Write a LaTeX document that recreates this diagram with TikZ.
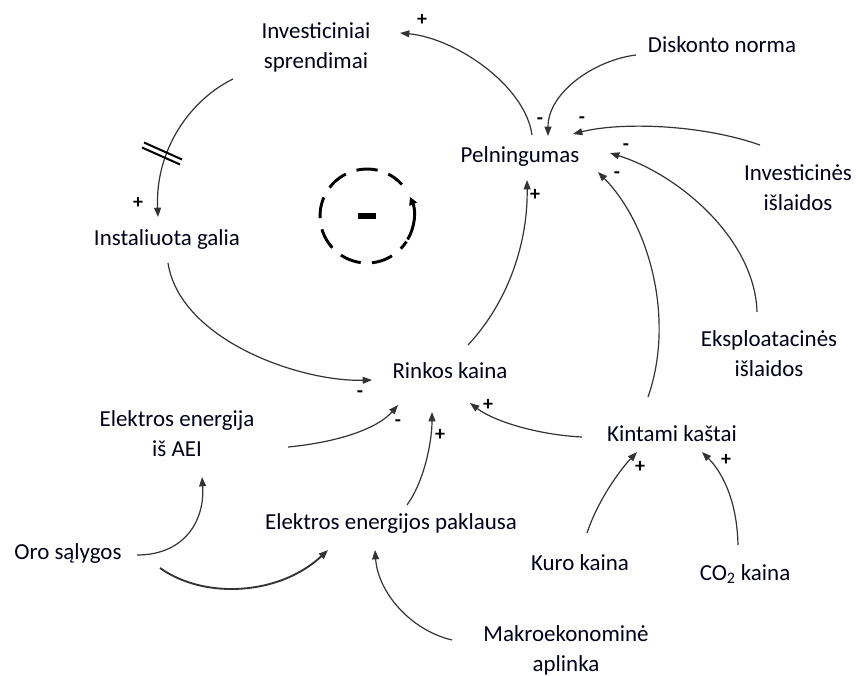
\documentclass[tikz,border=0pt]{standalone}
\usepackage{fontspec}
\setmainfont{Carlito}
\usetikzlibrary{arrows.meta,calc}
\begin{document}
\begin{tikzpicture}[x=0.75pt,y=-0.75pt,
  lbl/.style={font=\fontsize{17.2}{22.5}\selectfont, align=center, inner sep=0pt, text=black!90!blue},
  sgn/.style={font=\fontsize{15}{15}\selectfont\bfseries, inner sep=0pt},
  arr/.style={draw=black!80, line width=0.9pt, -{Triangle[length=7pt,width=5.2pt]}},
  thick arr/.style={arr, line width=1.4pt}
]
\useasboundingbox (0,0) rectangle (856,675);

% nodes
\node[lbl] (inv)   at (316,47)  {Investiciniai\\sprendimai};
\node[lbl] (disk)  at (722,45)  {Diskonto norma};
\node[lbl] (pel)   at (520,157) {Pelningumas};
\node[lbl] (invi)  at (798,188) {Investicinės\\išlaidos};
\node[lbl] (inst)  at (167,240) {Instaliuota galia};
\node[lbl] (eks)   at (769,354) {Eksploatacinės\\išlaidos};
\node[lbl] (rink)  at (450,371) {Rinkos kaina};
\node[lbl] (aei)   at (177,434) {Elektros energija\\iš AEI};
\node[lbl] (kint)  at (672,434) {Kintami kaštai};
\node[lbl] (pak)   at (391,524) {Elektros energijos paklausa};
\node[lbl] (oro)   at (68,553)  {Oro sąlygos};
\node[lbl] (kuro)  at (580,563) {Kuro kaina};
\node[lbl] (co2)   at (745,574) {CO\textsubscript{2} kaina};
\node[lbl] (makro) at (566,650) {Makroekonominė\\aplinka};

% connectors
\draw[arr] ($(pel)+(12,-22)$) .. controls (525,85) and (455,38) .. ($(inv)+(84,-14)$);
\draw[arr] ($(disk)+(-86,10)$) .. controls (595,60) and (548,92) .. ($(pel)+(28,-21)$);
\draw[arr] ($(invi)+(-38,-43)$) .. controls (700,124) and (620,122) .. ($(pel)+(53,-23)$);
\draw[arr] ($(eks)+(-12,-42)$) .. controls (755,240) and (680,175) .. ($(pel)+(90,-4)$);
\draw[arr] ($(kint)+(-24,-37)$) .. controls (675,320) and (650,225) .. ($(pel)+(78,15)$);
\draw[arr] ($(rink)+(18,-26)$) .. controls (510,300) and (528,240) .. ($(pel)+(7,23)$);
\draw[arr] ($(inv)+(-83,32)$) .. controls (190,100) and (155,150) .. ($(inst)+(-9,-23)$);
\draw[arr] ($(inst)+(1,23)$) .. controls (180,340) and (300,382) .. ($(rink)+(-78,9)$);
\draw[arr] ($(aei)+(111,13)$) .. controls (340,442) and (378,428) .. ($(rink)+(-52,34)$);
\draw[arr] ($(pak)+(16,-19)$) .. controls (425,480) and (432,440) .. ($(rink)+(-18,41)$);
\draw[arr] ($(kint)+(-90,3)$) .. controls (540,435) and (495,422) .. ($(rink)+(20,32)$);
\draw[arr] ($(kuro)+(7,-30)$) .. controls (598,500) and (620,470) .. ($(kint)+(-35,18)$);
\draw[arr] ($(co2)+(-7,-29)$) .. controls (737,500) and (722,472) .. ($(kint)+(30,18)$);
\draw[arr] ($(makro)+(-114,-10)$) .. controls (410,630) and (378,592) .. ($(pak)+(-16,26)$);
\draw[arr] ($(oro)+(69,2)$) .. controls (185,555) and (205,520) .. ($(aei)+(25,43)$);
\draw[thick arr] ($(oro)+(92,15)$) .. controls (205,600) and (280,595) .. ($(pak)+(-63,26)$);

% delay mark
\coordinate (delay) at (163,153);
\draw[line width=1.5pt] ($(delay)+(-19,-10.5)$) -- ($(delay)+(19,6.5)$);
\draw[line width=1.5pt] ($(delay)+(-21,-5.5)$) -- ($(delay)+(17,11.5)$);

% loop symbol
\coordinate (loop) at (367,216);
\draw[line width=2.2pt, dash pattern=on 16pt off 8.5pt, dash phase=3pt] (loop) ++(-42:47) arc[start angle=-42, end angle=-327, radius=47];
\draw[line width=2.2pt, -{Triangle[length=6pt,width=6pt]}] (loop) ++(30:47) arc[start angle=30, end angle=-24, radius=47];
\node[fill=black, minimum width=13pt, minimum height=5pt, inner sep=0pt] (loopsign) at (loop) {};

% signs
\node[sgn] (s1)  at (422,20)  {+};
\node[sgn] (s2)  at (540,121) {-};
\node[sgn] (s3)  at (582,120) {-};
\node[sgn] (s4)  at (626,147) {-};
\node[sgn] (s5)  at (617,175) {-};
\node[sgn] (s6)  at (535,195) {+};
\node[sgn] (s7)  at (138,203) {+};
\node[sgn] (s8)  at (360,394) {-};
\node[sgn] (s9)  at (398,423) {-};
\node[sgn] (s10) at (440,435) {+};
\node[sgn] (s11) at (488,405) {+};
\node[sgn] (s12) at (640,467) {+};
\node[sgn] (s13) at (726,460) {+};
\end{tikzpicture}
\end{document}
